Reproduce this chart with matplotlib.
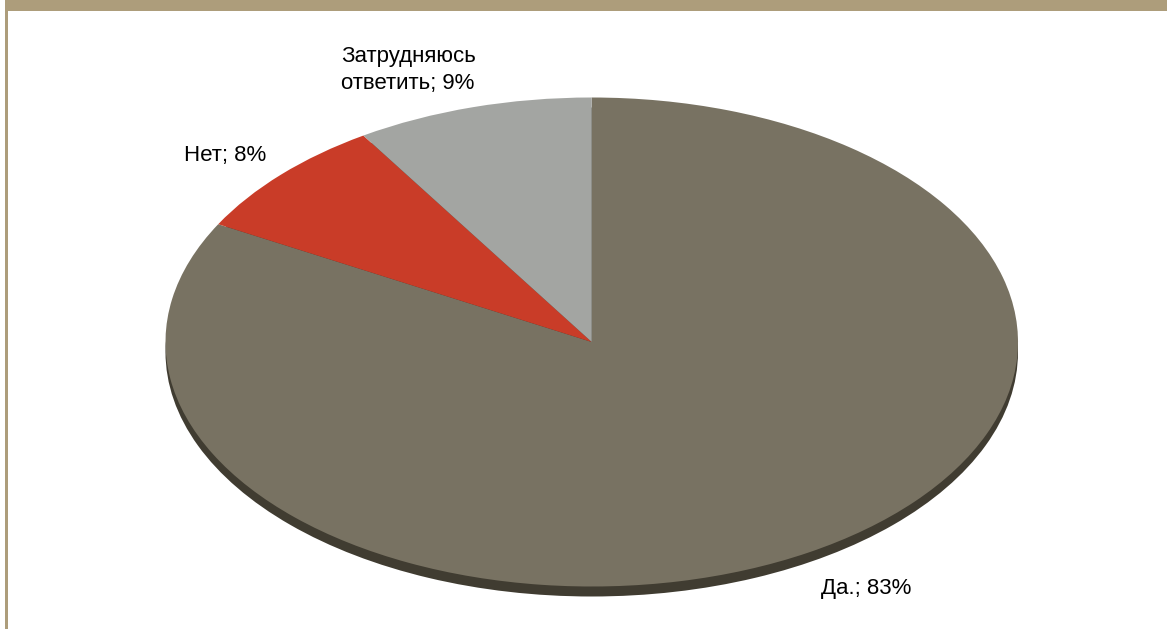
import matplotlib
matplotlib.use("Agg")
import matplotlib.pyplot as plt
from matplotlib.patches import Rectangle

# survey answers
labels = ["Да.", "Нет", "Затрудняюсь\nответить"]
shares = [83, 8, 9]
colors = ["#787262", "#c93c28", "#a3a5a2"]

W, H = 1167, 629
fig = plt.figure(figsize=(W / 100, H / 100), dpi=100)
fig.patch.set_facecolor("white")

# frame: tan band on top and a thin rule on the left
tan = "#ad9d7b"
fig.add_artist(Rectangle((5 / W, 1 - 11 / H), 1 - 5 / W, 11 / H,
                         transform=fig.transFigure, color=tan, lw=0))
fig.add_artist(Rectangle((5 / W, 0), 3 / W, 1,
                         transform=fig.transFigure, color=tan, lw=0))

# pie box in pixels (top face ellipse + thickness underneath)
x0, x1 = 165.5, 1018.0
y_top, ry = 97.5, 244.5
depth = 10.0
y_bot = y_top + 2 * ry + depth
d = depth / ry

ax = fig.add_axes([x0 / W, 1 - y_bot / H, (x1 - x0) / W, (y_bot - y_top) / H])

# side of the disc, shifted down
ax.pie([1], colors=["#403c31"], radius=1, center=(0, -d),
       wedgeprops=dict(linewidth=0))
wedges, _ = ax.pie(shares, colors=colors, startangle=90, counterclock=False,
                   radius=1, center=(0, 0), wedgeprops=dict(linewidth=0))
ax.set_aspect("auto")
ax.set_xlim(-1, 1)
ax.set_ylim(-1 - d, 1)
ax.axis("off")

font = dict(family="Liberation Sans", fontsize=16, color="black")
texts = [f"{lab}; {v}%" for lab, v in zip(labels, shares)]
fig.text(821 / W, 1 - 594 / H, texts[0], ha="left", va="baseline", **font)
fig.text(184 / W, 1 - 161 / H, texts[1], ha="left", va="baseline", **font)
fig.text(341 / W, 1 - 89.5 / H, texts[2], ha="left", va="baseline",
         linespacing=1.4, **font)

fig.savefig("out.png", dpi=100)
